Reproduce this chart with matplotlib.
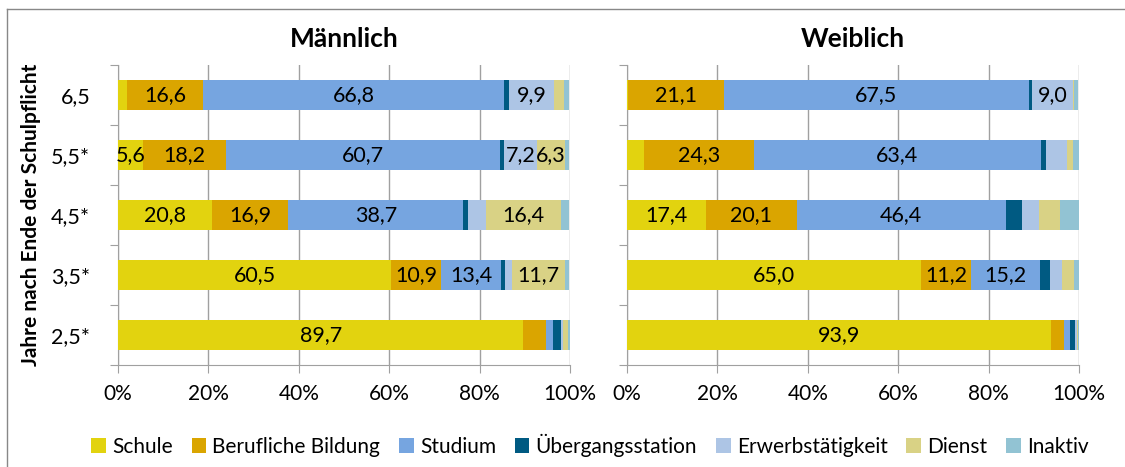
import matplotlib
matplotlib.use("Agg")
import matplotlib.pyplot as plt
import numpy as np
from matplotlib.lines import Line2D

plt.rcParams['font.family'] = ['Lato', 'DejaVu Sans']

years = ["6,5", "5,5*", "4,5*", "3,5*", "2,5*"]
categories = ["Schule", "Berufliche Bildung", "Studium", "Übergangsstation",
              "Erwerbstätigkeit", "Dienst", "Inaktiv"]
colors = ["#E2D30F", "#DAA500", "#76A5E0", "#005A82", "#ADC5E5", "#D9D285", "#92C3D3"]

# rows: years (6,5 ... 2,5*), columns: categories
maennlich = np.array([
    [2.1, 16.6, 66.8, 1.1, 9.9, 2.2, 1.1],
    [5.6, 18.2, 60.7, 1.0, 7.2, 6.3, 0.7],
    [20.8, 16.9, 38.7, 1.1, 4.0, 16.4, 1.8],
    [60.5, 10.9, 13.4, 0.8, 1.6, 11.7, 0.9],
    [89.7, 4.9, 1.7, 1.6, 0.5, 1.2, 0.3],
])
weiblich = np.array([
    [0.3, 21.1, 67.5, 0.7, 9.0, 0.2, 1.0],
    [3.8, 24.3, 63.4, 1.3, 4.6, 1.3, 1.3],
    [17.4, 20.1, 46.4, 3.5, 3.7, 4.8, 4.1],
    [65.0, 11.2, 15.2, 2.2, 2.7, 2.7, 1.0],
    [93.9, 2.7, 1.5, 1.0, 0.4, 0.2, 0.3],
])

fig = plt.figure(figsize=(11.25, 4.67), dpi=100)
W, H = 1125, 467

# outer frame like the spreadsheet chart area
fig.add_artist(Line2D([7 / W, 7 / W], [0, 1 - 9 / H], transform=fig.transFigure, color="#888888", lw=1))
fig.add_artist(Line2D([7 / W, 1], [1 - 9 / H, 1 - 9 / H], transform=fig.transFigure, color="#888888", lw=1))

ax_l = fig.add_axes([118 / W, 1 - 365 / H, 452 / W, 300 / H])
ax_r = fig.add_axes([627 / W, 1 - 365 / H, 452 / W, 300 / H])

grid_c = "#A0A0A0"
y = np.arange(len(years))

for ax, data, title in [(ax_l, maennlich, "Männlich"), (ax_r, weiblich, "Weiblich")]:
    left = np.zeros(len(years))
    for j, cat in enumerate(categories):
        vals = data[:, j]
        ax.barh(y, vals, left=left, height=0.5, color=colors[j], label=cat, linewidth=0, zorder=3)
        for i, v in enumerate(vals):
            if v >= 5:
                ax.text(left[i] + v / 2, y[i], f"{v:.1f}".replace(".", ","),
                        ha="center", va="center", fontsize=15.5, color="black", zorder=4)
        left += vals
    ax.set_xlim(0, 100)
    ax.set_ylim(len(years) - 0.5, -0.5)
    ax.set_xticks(np.arange(0, 101, 20))
    ax.set_xticklabels([f"{t}%" for t in range(0, 101, 20)], fontsize=15)
    ax.set_yticks(np.arange(len(years) + 1) - 0.5, minor=False)
    ax.set_yticklabels([])
    ax.set_yticks(y, minor=True)
    ax.tick_params(axis="y", which="minor", length=0, labelsize=15.5, pad=20)
    ax.tick_params(axis="y", which="major", length=6, color=grid_c, direction="out")
    ax.tick_params(axis="x", length=6, color=grid_c, direction="out", pad=8)
    ax.grid(axis="x", color=grid_c, lw=1, zorder=0)
    for s in ["top", "right"]:
        ax.spines[s].set_visible(False)
    for s in ["left", "bottom"]:
        ax.spines[s].set_color(grid_c)
    ax.set_title(title, fontsize=19, fontweight="bold", pad=13)

ax_l.set_yticklabels(years, minor=True)
ax_r.set_yticklabels([], minor=True)
ax_l.set_ylabel("Jahre nach Ende der Schulpflicht", fontsize=15, fontweight="bold")
ax_l.yaxis.set_label_coords(-0.17, 0.5)

handles, labels = ax_l.get_legend_handles_labels()
fig.legend(handles, labels, loc="center", bbox_to_anchor=(590 / W, 1 - 445 / H), ncol=7,
           frameon=False, fontsize=15, handlelength=0.7, handleheight=0.7,
           handletextpad=0.3, columnspacing=0.9)

fig.savefig("out.png", dpi=100)
